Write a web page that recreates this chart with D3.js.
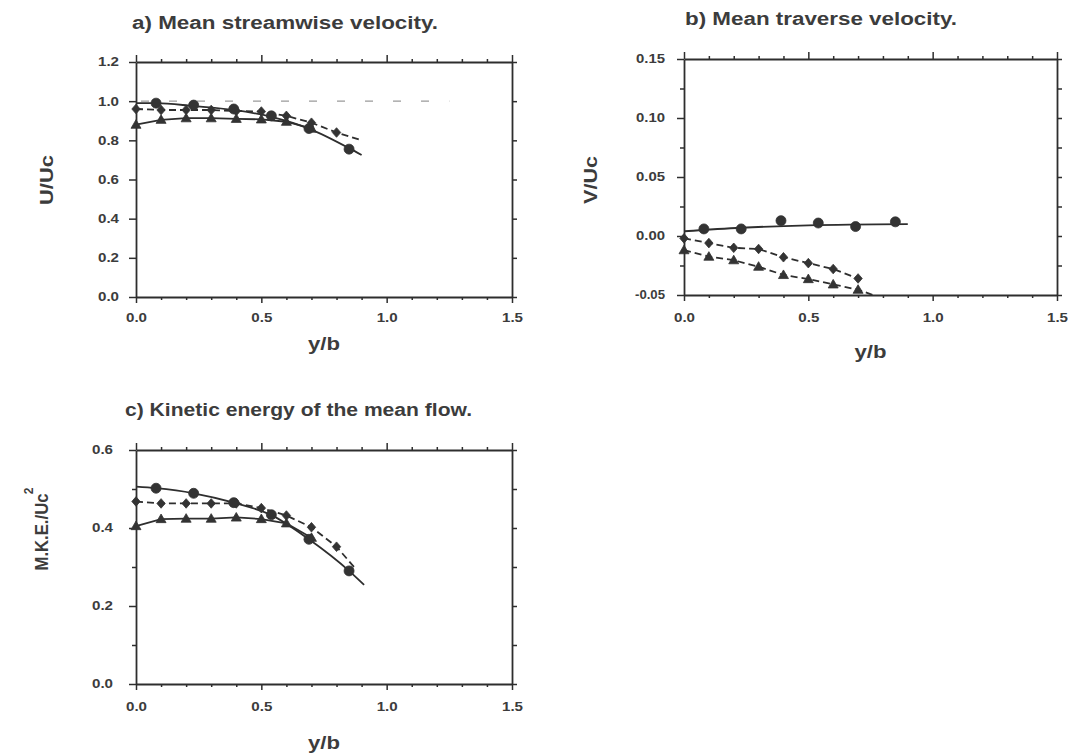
<!DOCTYPE html>
<html><head><meta charset="utf-8">
<script src="https://cdn.jsdelivr.net/npm/d3@7"></script>
<style>
body{margin:0;background:#fff}
svg{display:block}
text{font-family:"Liberation Sans",Arial,sans-serif;font-weight:bold;fill:#3c3c3c}
</style>
</head><body>
<svg id="chart" width="1068" height="755"></svg>
<script>
// ---------- shared axis data ----------
const xMajorTicks = [0, 0.5, 1.0, 1.5];
const xTickLabels = ["0.0", "0.5", "1.0", "1.5"];
const xMinorTicks = [0.1, 0.2, 0.3, 0.4, 0.6, 0.7, 0.8, 0.9, 1.1, 1.2, 1.3, 1.4];

const circleX   = [0.08, 0.23, 0.39, 0.54, 0.69, 0.85];
const diamondX  = [0, 0.1, 0.2, 0.3, 0.4, 0.5, 0.6, 0.7, 0.8];
const triangleX = [0, 0.1, 0.2, 0.3, 0.4, 0.5, 0.6, 0.7];

// ---------- panel a : U/Uc ----------
const aYTicks = [0, 0.2, 0.4, 0.6, 0.8, 1.0, 1.2];
const aYTickLabels = ["0.0", "0.2", "0.4", "0.6", "0.8", "1.0", "1.2"];
const aCircleU = [0.99, 0.98, 0.96, 0.925, 0.86, 0.755];
const aCircleFitX = [0, 0.08, 0.23, 0.39, 0.54, 0.69, 0.85, 0.90];
const aCircleFitU = [0.99, 0.99, 0.975, 0.955, 0.92, 0.86, 0.76, 0.725];
const aDiamondU = [0.96, 0.955, 0.955, 0.955, 0.95, 0.947, 0.925, 0.89, 0.84];
const aDiamondLineX = [0, 0.1, 0.2, 0.3, 0.4, 0.5, 0.6, 0.7, 0.8, 0.9];
const aDiamondLineU = [0.96, 0.955, 0.955, 0.955, 0.95, 0.947, 0.925, 0.89, 0.84, 0.80];
const aTriangleU = [0.88, 0.905, 0.913, 0.913, 0.91, 0.907, 0.895, 0.86];
const aRefX = [0.02, 1.25];
const aRefU = [1.0, 1.0];

// ---------- panel b : V/Uc ----------
const bYTicks = [-0.05, 0, 0.05, 0.10, 0.15];
const bYTickLabels = ["-0.05", "0.00", "0.05", "0.10", "0.15"];
const bYMinorTicks = [-0.025, 0.025, 0.075, 0.125];
const bCircleV = [0.006, 0.006, 0.013, 0.011, 0.008, 0.012];
const bCircleFitX = [0, 0.23, 0.5, 0.9];
const bCircleFitV = [0.004, 0.007, 0.009, 0.010];
const bDiamondX = [0, 0.1, 0.2, 0.3, 0.4, 0.5, 0.6, 0.7];
const bDiamondV = [-0.002, -0.006, -0.010, -0.011, -0.018, -0.023, -0.028, -0.036];
const bTriangleV = [-0.012, -0.0175, -0.0205, -0.026, -0.033, -0.0365, -0.041, -0.0455];
const bTriangleLineX = [0, 0.1, 0.2, 0.3, 0.4, 0.5, 0.6, 0.7, 0.76];
const bTriangleLineV = [-0.012, -0.0175, -0.0205, -0.026, -0.033, -0.0365, -0.041, -0.0455, -0.05];

// ---------- panel c : M.K.E./Uc^2 ----------
const cYTicks = [0, 0.2, 0.4, 0.6];
const cYTickLabels = ["0.0", "0.2", "0.4", "0.6"];
const cYMinorTicks = [0.1, 0.3, 0.5];
const cCircleE = [0.502, 0.489, 0.465, 0.434, 0.371, 0.290];
const cCircleFitX = [0, 0.08, 0.23, 0.39, 0.54, 0.69, 0.85, 0.91];
const cCircleFitE = [0.506, 0.502, 0.489, 0.465, 0.433, 0.371, 0.290, 0.254];
const cDiamondE = [0.468, 0.463, 0.463, 0.463, 0.463, 0.451, 0.432, 0.402, 0.352];
const cDiamondLineX = [0, 0.1, 0.2, 0.3, 0.4, 0.5, 0.6, 0.7, 0.8, 0.87];
const cDiamondLineE = [0.468, 0.463, 0.463, 0.463, 0.463, 0.451, 0.432, 0.402, 0.352, 0.30];
const cTriangleE = [0.405, 0.423, 0.424, 0.424, 0.427, 0.423, 0.412, 0.375];

// ---------- drawing ----------
const svg = d3.select("#chart");
const INK = "#2e2e2e";

function zip(xs, ys) { return xs.map((x, i) => [x, ys[i]]); }

function labelWidth(s) { return s.length >= 5 ? 30 : (s.length === 4 ? 29 : 21); }

function drawPanel(p) {
  const x = d3.scaleLinear().domain([0, 1.5]).range([p.left, p.right]);
  const y = d3.scaleLinear().domain(p.yDomain).range([p.bottom, p.top]);
  const g = svg.append("g");

  const style = sel => {
    sel.selectAll("path.domain").attr("stroke", INK).attr("stroke-width", 1.8);
    sel.selectAll(".tick line").attr("stroke", INK).attr("stroke-width", 1.5);
  };

  // bottom axis
  const bMaj = g.append("g").attr("transform", `translate(0,${p.bottom})`)
    .call(d3.axisBottom(x).tickValues(xMajorTicks).tickSize(6).tickSizeOuter(0)
      .tickFormat((d, i) => xTickLabels[i]).tickPadding(p.xLabelPad));
  style(bMaj);
  bMaj.selectAll("text").attr("font-size", 12).attr("fill", "#3c3c3c")
    .attr("textLength", d => 21).attr("lengthAdjust", "spacingAndGlyphs");
  const bMin = g.append("g").attr("transform", `translate(0,${p.bottom})`)
    .call(d3.axisBottom(x).tickValues(xMinorTicks).tickSize(3).tickFormat(""));
  bMin.select("path.domain").remove(); style(bMin);

  // top axis
  const tMaj = g.append("g").attr("transform", `translate(0,${p.top})`)
    .call(d3.axisTop(x).tickValues(xMajorTicks).tickSize(7).tickSizeOuter(0).tickFormat(""));
  style(tMaj);
  const tMin = g.append("g").attr("transform", `translate(0,${p.top})`)
    .call(d3.axisTop(x).tickValues(xMinorTicks).tickSize(3).tickFormat(""));
  tMin.select("path.domain").remove(); style(tMin);

  // left axis
  const lMaj = g.append("g").attr("transform", `translate(${p.left},0)`)
    .call(d3.axisLeft(y).tickValues(p.yTicks).tickSize(7).tickSizeOuter(0)
      .tickFormat((d, i) => p.yTickLabels[i]).tickPadding(p.yLabelPad));
  style(lMaj);
  lMaj.selectAll("text").attr("font-size", 12).attr("fill", "#3c3c3c")
    .attr("textLength", (d, i) => labelWidth(p.yTickLabels[i])).attr("lengthAdjust", "spacingAndGlyphs");
  if (p.yMinor) {
    const lMin = g.append("g").attr("transform", `translate(${p.left},0)`)
      .call(d3.axisLeft(y).tickValues(p.yMinor).tickSize(4).tickFormat(""));
    lMin.select("path.domain").remove(); style(lMin);
  }

  // right axis
  const rAx = g.append("g").attr("transform", `translate(${p.right},0)`)
    .call(d3.axisRight(y).tickValues(p.rightTicks).tickSize(5).tickSizeOuter(0).tickFormat(""));
  style(rAx);

  // lines
  const line = d3.line().x(d => x(d[0])).y(d => y(d[1]));
  p.lines.forEach(L => {
    g.append("path").datum(L.pts)
      .attr("d", line.curve(L.smooth ? d3.curveMonotoneX : d3.curveLinear))
      .attr("fill", "none").attr("stroke", L.color || INK)
      .attr("stroke-width", L.width || 1.8)
      .attr("stroke-dasharray", L.dash || null);
  });

  // markers
  const shapes = {
    circle: "M5,0A5,5 0 1,1 -5,0A5,5 0 1,1 5,0Z",
    diamond: "M0,-4.8L4.2,0L0,4.8L-4.2,0Z",
    triangle: "M0,-5L5,3.6L-5,3.6Z"
  };
  p.markers.forEach(M => {
    g.append("g").selectAll("path").data(M.pts).join("path")
      .attr("d", shapes[M.shape])
      .attr("transform", d => `translate(${x(d[0])},${y(d[1])})`)
      .attr("fill", "#333").attr("stroke", "#333").attr("stroke-width", 0.8);
  });

  // titles
  svg.append("text").attr("x", p.title.x).attr("y", p.title.y)
    .attr("font-size", 17.5).attr("textLength", p.title.w).attr("lengthAdjust", "spacingAndGlyphs")
    .text(p.title.text);
  svg.append("text").attr("x", (p.left + p.right) / 2).attr("y", p.xTitleY)
    .attr("text-anchor", "middle").attr("font-size", 18)
    .attr("textLength", 32).attr("lengthAdjust", "spacingAndGlyphs").text("y/b");
  svg.append("text")
    .attr("transform", `translate(${p.yTitle.x},${p.yTitle.y}) rotate(-90)`)
    .attr("text-anchor", "middle").attr("font-size", 17.5)
    .attr("textLength", p.yTitle.w).attr("lengthAdjust", "spacingAndGlyphs")
    .text(p.yTitle.text);
}

// panel a
drawPanel({
  left: 136, right: 512, top: 62, bottom: 297, yDomain: [0, 1.2],
  yTicks: aYTicks, yTickLabels: aYTickLabels, yMinor: null, rightTicks: aYTicks,
  xLabelPad: 10, yLabelPad: 10,
  lines: [
    { pts: zip(aRefX, aRefU), dash: "8,20", color: "#9a9a9a", width: 1.4 },
    { pts: zip(aCircleFitX, aCircleFitU), smooth: true },
    { pts: zip(aDiamondLineX, aDiamondLineU), dash: "7,4" },
    { pts: zip(triangleX, aTriangleU) }
  ],
  markers: [
    { shape: "circle", pts: zip(circleX, aCircleU) },
    { shape: "diamond", pts: zip(diamondX, aDiamondU) },
    { shape: "triangle", pts: zip(triangleX, aTriangleU) }
  ],
  title: { x: 132, y: 29, w: 306, text: "a) Mean streamwise velocity." },
  xTitleY: 350,
  yTitle: { x: 53, y: 180, w: 50, text: "U/Uc" }
});

// panel b
drawPanel({
  left: 684, right: 1057, top: 59, bottom: 295, yDomain: [-0.05, 0.15],
  yTicks: bYTicks, yTickLabels: bYTickLabels, yMinor: bYMinorTicks,
  rightTicks: [-0.05, -0.025, 0, 0.025, 0.05, 0.075, 0.10, 0.125, 0.15],
  xLabelPad: 12, yLabelPad: 12,
  lines: [
    { pts: zip(bCircleFitX, bCircleFitV), smooth: true },
    { pts: zip(bDiamondX, bDiamondV), dash: "7,4" },
    { pts: zip(bTriangleLineX, bTriangleLineV), dash: "7,4" }
  ],
  markers: [
    { shape: "circle", pts: zip(circleX, bCircleV) },
    { shape: "diamond", pts: zip(bDiamondX, bDiamondV) },
    { shape: "triangle", pts: zip(triangleX, bTriangleV) }
  ],
  title: { x: 685, y: 25, w: 272, text: "b) Mean traverse velocity." },
  xTitleY: 358,
  yTitle: { x: 597, y: 180, w: 48, text: "V/Uc" }
});

// panel c
drawPanel({
  left: 136, right: 512, top: 450, bottom: 684, yDomain: [0, 0.6],
  yTicks: cYTicks, yTickLabels: cYTickLabels, yMinor: cYMinorTicks,
  rightTicks: [0, 0.1, 0.2, 0.3, 0.4, 0.5, 0.6],
  xLabelPad: 12, yLabelPad: 16,
  lines: [
    { pts: zip(cCircleFitX, cCircleFitE), smooth: true },
    { pts: zip(cDiamondLineX, cDiamondLineE), dash: "7,4" },
    { pts: zip(triangleX, cTriangleE) }
  ],
  markers: [
    { shape: "circle", pts: zip(circleX, cCircleE) },
    { shape: "diamond", pts: zip(diamondX, cDiamondE) },
    { shape: "triangle", pts: zip(triangleX, cTriangleE) }
  ],
  title: { x: 125, y: 416, w: 347, text: "c) Kinetic energy of the mean flow." },
  xTitleY: 749,
  yTitle: { x: 48, y: 532, w: 77, text: "M.K.E./Uc" }
});

// superscript 2 of Uc^2
svg.append("text").attr("transform", "translate(33,491) rotate(-90)")
  .attr("text-anchor", "middle").attr("font-size", 12).text("2");
</script>
</body></html>
